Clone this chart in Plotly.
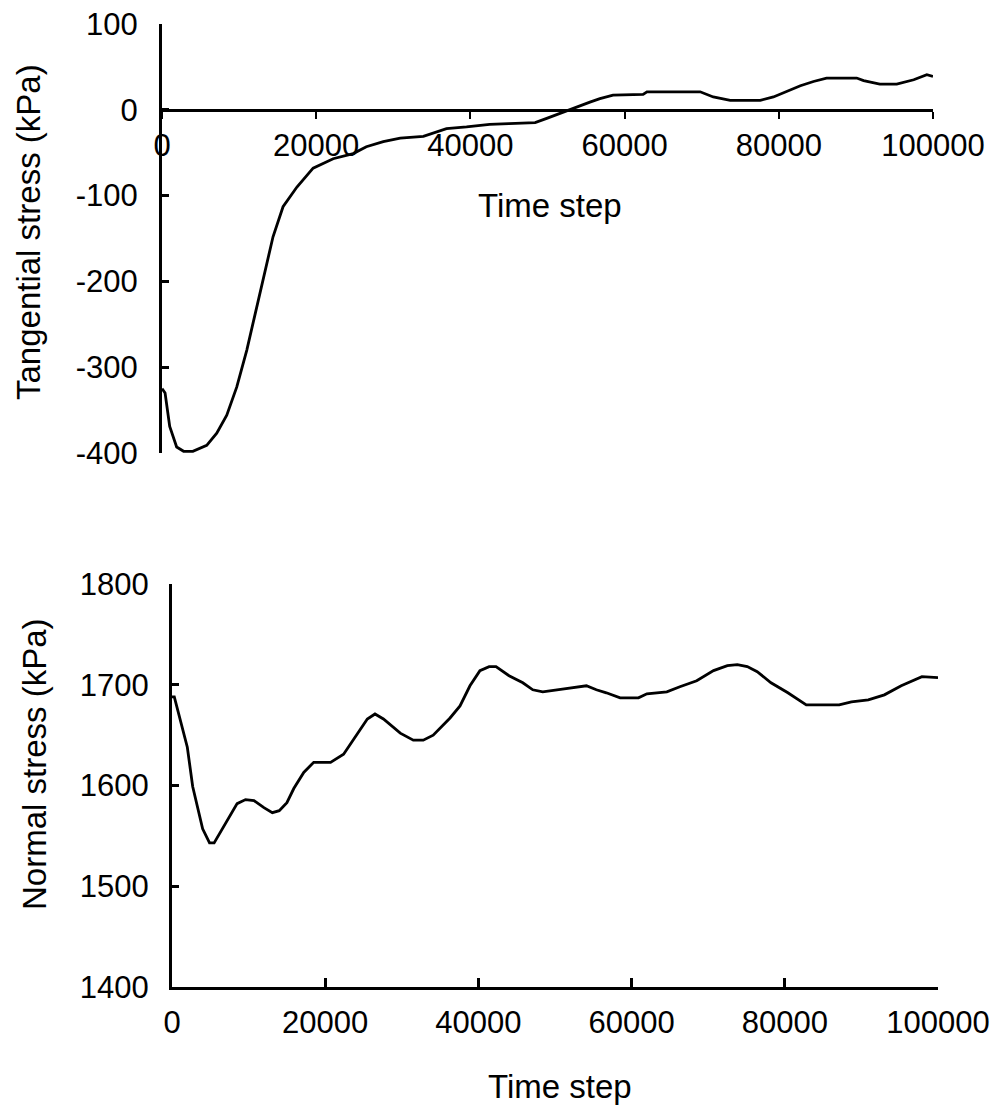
import plotly.graph_objects as go

# Upper panel: tangential stress (kPa) vs time step
tan_t = [0, 400, 1000, 1900, 2800, 4000, 5800, 7100, 8400, 9700,
         11000, 12300, 13600, 14400, 15700, 17500, 19600, 22200, 24800, 26500,
         28700, 30900, 33900, 36900, 39500, 42500, 45000, 48400, 49900, 51600,
         53800, 55500, 56800, 58500, 62400, 62900, 69800, 71500, 73700, 77600,
         79300, 81000, 82800, 84500, 86200, 90100, 91000, 93100, 95300, 97500,
         99200, 100000]
tan_v = [-325, -330, -369, -393, -398, -398, -391, -377, -356, -323,
         -280, -229, -179, -148, -113, -90, -68, -57, -51, -43,
         -37, -33, -31, -22, -20, -17, -16, -15, -10, -4,
         3, 9, 13, 17, 18, 21, 21, 15, 11, 11,
         15, 21, 28, 33, 37, 37, 34, 30, 30, 35,
         41, 39]

# Lower panel: normal stress (kPa) vs time step
norm_t = [0, 300, 2000, 2700, 4000, 4900, 5500, 6600, 7700, 8500,
          9600, 10700, 12000, 13100, 14000, 15000, 15900, 17200, 18500, 20700,
          22400, 24200, 25500, 26500, 27600, 29800, 31500, 32800, 34100, 36300,
          37600, 38900, 40200, 41400, 42300, 44000, 45800, 47100, 48400, 51200,
          54100, 55400, 56700, 58500, 60900, 62000, 64600, 66300, 68500, 70700,
          72500, 73800, 75100, 76400, 78200, 80400, 82800, 87100, 88700, 90900,
          93000, 95200, 97900, 100000]
norm_v = [1688, 1688, 1638, 1599, 1557, 1543, 1543, 1557, 1571, 1582,
          1586, 1585, 1578, 1573, 1575, 1583, 1597, 1613, 1623, 1623,
          1631, 1652, 1666, 1671, 1666, 1652, 1645, 1645, 1650, 1667,
          1679, 1699, 1714, 1718, 1718, 1709, 1702, 1695, 1693, 1696,
          1699, 1695, 1692, 1687, 1687, 1691, 1693, 1698, 1704, 1714,
          1719, 1720, 1718, 1713, 1702, 1692, 1680, 1680, 1683, 1685,
          1690, 1699, 1708, 1707]

x_ticks = [0, 20000, 40000, 60000, 80000, 100000]
x_labels = ["0", "20000", "40000", "60000", "80000", "100000"]
tan_ticks = [100, 0, -100, -200, -300, -400]
tan_labels = ["100", "0", "-100", "-200", "-300", "-400"]
norm_ticks = [1800, 1700, 1600, 1500, 1400]
norm_labels = ["1800", "1700", "1600", "1500", "1400"]

# the page body has an 8px margin, so the figure starts 8px in from the corner
OFF = 8
W, H = 998 - OFF, 1113 - OFF
FONT = dict(family="Liberation Sans, Arial, sans-serif", size=31, color="black")
TITLE_FONT = dict(FONT, size=33)


def px_x(p):
    return (p - OFF) / W


def px_y(p):
    return 1 - (p - OFF) / H


top_xdom = [px_x(162), px_x(933)]
top_ydom = [px_y(453), px_y(24)]
bot_xdom = [px_x(172), px_x(938)]
bot_ydom = [px_y(987), px_y(584)]

tan_range = [-400, 100]
zero_pos = top_ydom[0] + (0 - tan_range[0]) / (tan_range[1] - tan_range[0]) * (
    top_ydom[1] - top_ydom[0]
)

fig = go.Figure()
fig.add_trace(
    go.Scatter(x=tan_t, y=tan_v, mode="lines", line=dict(color="black", width=2.8),
               xaxis="x", yaxis="y", showlegend=False)
)
fig.add_trace(
    go.Scatter(x=norm_t, y=norm_v, mode="lines", line=dict(color="black", width=2.8),
               xaxis="x2", yaxis="y2", showlegend=False)
)

axis_common = dict(
    showgrid=False, zeroline=False, showline=True, linecolor="black",
    tickcolor="black", tickfont=FONT, automargin=False, ticklabeloverflow="allow",
)

fig.update_layout(
    width=W,
    height=H,
    margin=dict(l=0, r=0, t=0, b=0),
    paper_bgcolor="white",
    plot_bgcolor="white",
    font=FONT,
    xaxis=dict(
        **axis_common, domain=top_xdom, range=[0, 100000], anchor="free",
        position=zero_pos, tickmode="array", tickvals=x_ticks, ticktext=x_labels,
        ticks="outside", ticklen=7, tickwidth=2, linewidth=2.5,
        ticklabelstandoff=0,
    ),
    xaxis3=dict(
        showgrid=False, zeroline=False, showline=False, overlaying="x",
        domain=top_xdom, range=[0, 100000], anchor="free", position=zero_pos,
        tickmode="array", tickvals=x_ticks, ticks="inside", ticklen=7,
        tickwidth=2, tickcolor="black", showticklabels=False,
    ),
    yaxis=dict(
        **axis_common, domain=top_ydom, range=tan_range, anchor="x",
        tickmode="array", tickvals=tan_ticks, ticktext=tan_labels,
        ticks="inside", ticklen=7, tickwidth=2.5, linewidth=3,
        ticklabelstandoff=15,
    ),
    xaxis2=dict(
        **axis_common, domain=bot_xdom, range=[0, 100000], anchor="y2",
        tickmode="array", tickvals=x_ticks, ticktext=x_labels,
        ticks="inside", ticklen=9, tickwidth=2.5, linewidth=3,
        ticklabelstandoff=6,
    ),
    yaxis2=dict(
        **axis_common, domain=bot_ydom, range=[1400, 1800], anchor="x2",
        tickmode="array", tickvals=norm_ticks, ticktext=norm_labels,
        ticks="inside", ticklen=7, tickwidth=2.5, linewidth=3,
        ticklabelstandoff=14,
    ),
)

# axis titles placed as in the original figure
titles = [
    ("Time step", px_x(550), px_y(205), 0),
    ("Time step", px_x(560), px_y(1086), 0),
    ("Tangential stress (kPa)", px_x(29), px_y(232), -90),
    ("Normal stress (kPa)", px_x(34), px_y(764), -90),
]
for text, x, y, angle in titles:
    fig.add_annotation(
        text=text, x=x, y=y, xref="paper", yref="paper", showarrow=False,
        xanchor="center", yanchor="middle", textangle=angle, font=TITLE_FONT,
    )

fig.write_html("out.html")
